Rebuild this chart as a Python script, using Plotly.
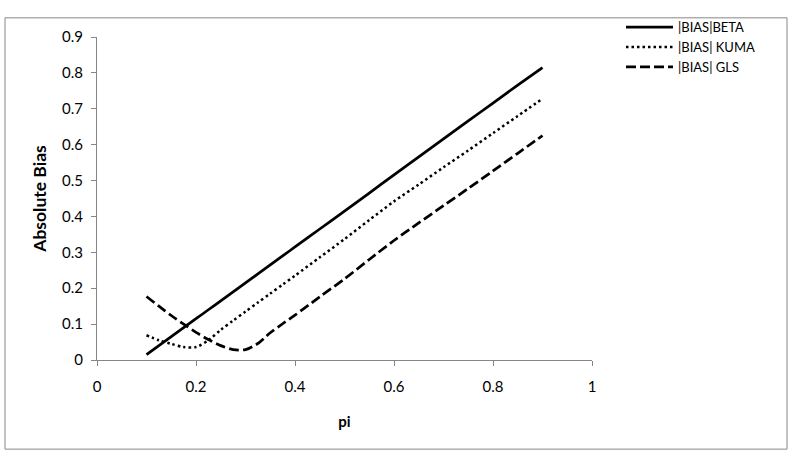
import plotly.graph_objects as go

pi_vals = [0.1, 0.125, 0.15, 0.175, 0.2, 0.225, 0.25, 0.275, 0.3, 0.325, 0.35, 0.375, 0.4,
           0.45, 0.5, 0.55, 0.6, 0.65, 0.7, 0.75, 0.8, 0.85, 0.9]
bias_beta = [0.015, 0.040, 0.065, 0.090, 0.115, 0.140, 0.165, 0.190, 0.215, 0.240, 0.265, 0.290, 0.315,
             0.365, 0.415, 0.465, 0.516, 0.566, 0.616, 0.666, 0.716, 0.766, 0.815]
bias_kuma = [0.069, 0.055, 0.045, 0.036, 0.036, 0.055, 0.084, 0.110, 0.135, 0.160, 0.185, 0.210, 0.235,
             0.286, 0.337, 0.390, 0.442, 0.489, 0.537, 0.584, 0.632, 0.680, 0.728]
bias_gls = [0.177, 0.150, 0.124, 0.100, 0.077, 0.057, 0.040, 0.029, 0.029, 0.046, 0.076, 0.101, 0.125,
            0.176, 0.226, 0.280, 0.333, 0.382, 0.430, 0.478, 0.527, 0.576, 0.625]

series_names = ["|BIAS|BETA", "|BIAS| KUMA", "|BIAS| GLS"]
x_ticks = [0, 0.2, 0.4, 0.6, 0.8, 1]
y_ticks = [0, 0.1, 0.2, 0.3, 0.4, 0.5, 0.6, 0.7, 0.8, 0.9]

FONT = "Lato, 'Open Sans', sans-serif"

fig = go.Figure()
fig.add_trace(go.Scatter(x=pi_vals, y=bias_beta, mode="lines", name=series_names[0],
                         line=dict(color="black", width=2.75, dash="solid", shape="spline", smoothing=0.8)))
fig.add_trace(go.Scatter(x=pi_vals, y=bias_kuma, mode="lines", name=series_names[1],
                         line=dict(color="black", width=2.5, dash="2.5px,3px", shape="spline", smoothing=0.8)))
fig.add_trace(go.Scatter(x=pi_vals, y=bias_gls, mode="lines", name=series_names[2],
                         line=dict(color="black", width=2.75, dash="10px,4px", shape="spline", smoothing=0.8)))

W, H = 792, 459
L, R, T, B = 97, 200, 23, 99
pw, ph = W - L - R, H - T - B

def px_x(p):
    return (p - L) / pw

def px_y(p):
    return (H - B - p) / ph

fig.update_layout(
    width=W, height=H,
    margin=dict(l=L, r=R, t=T, b=B),
    paper_bgcolor="white", plot_bgcolor="white",
    font=dict(family=FONT, size=14, color="black"),
    showlegend=True,
    legend=dict(x=px_x(621), y=px_y(-3), xanchor="left", yanchor="top",
                font=dict(family=FONT, size=13, color="black"),
                itemwidth=47, tracegroupgap=0, bgcolor="rgba(0,0,0,0)"),
    xaxis=dict(range=[0, 1], tickvals=x_ticks, ticktext=[f"{v:g}" for v in x_ticks],
               showgrid=False, zeroline=False, showline=True, linecolor="#868686", linewidth=1,
               ticks="outside", ticklen=5, tickcolor="#868686", ticklabelstandoff=8,
               tickfont=dict(family=FONT, size=15),
               title=dict(text="<b>pi</b>", font=dict(family=FONT, size=15), standoff=22)),
    yaxis=dict(range=[0, 0.9], tickvals=y_ticks, ticktext=[f"{v:g}" for v in y_ticks],
               showgrid=False, zeroline=False, showline=True, linecolor="#868686", linewidth=1,
               ticks="outside", ticklen=5, tickcolor="#868686", ticklabelstandoff=5,
               tickfont=dict(family=FONT, size=15),
               title=dict(text="<b>Absolute Bias</b>", font=dict(family=FONT, size=17.5), standoff=10)),
)

fig.add_shape(type="rect", xref="paper", yref="paper",
              x0=px_x(5), x1=px_x(787), y0=px_y(453), y1=px_y(3),
              line=dict(color="#868686", width=1), fillcolor="rgba(0,0,0,0)", layer="below")

fig.write_html("out.html", config={"displayModeBar": False},
               post_script="document.body.style.margin='0';")
